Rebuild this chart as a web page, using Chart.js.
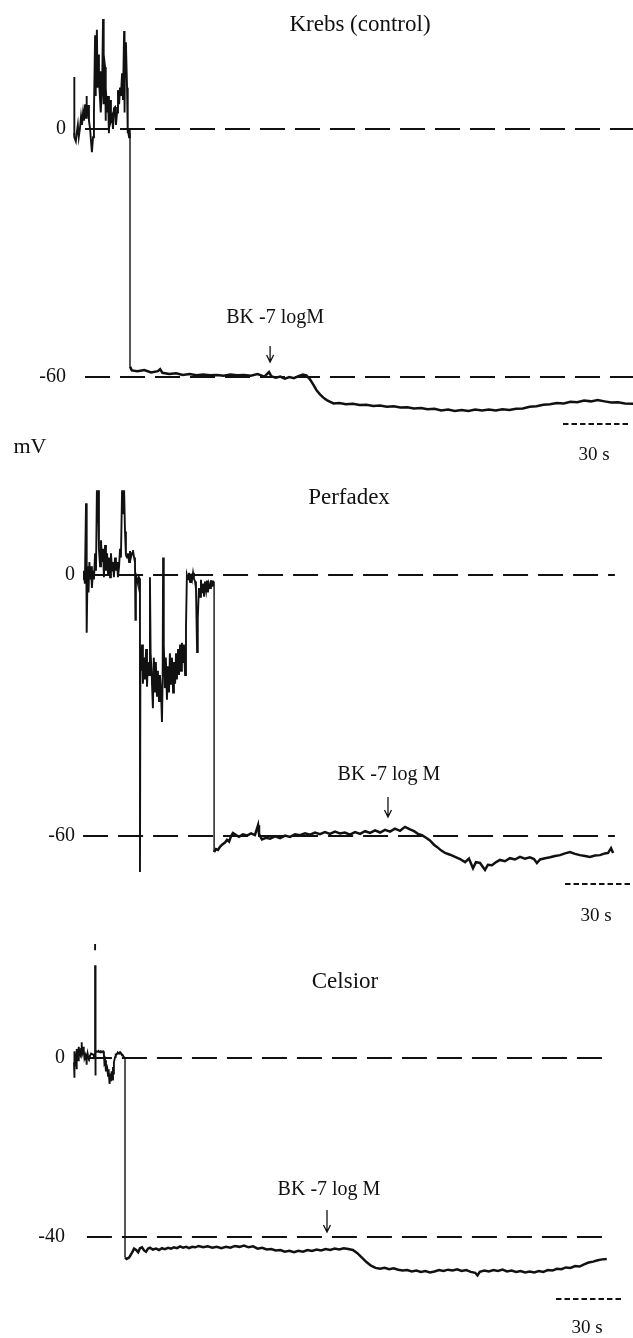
<!DOCTYPE html>
<html>
<head>
<meta charset="utf-8">
<script src="https://cdn.jsdelivr.net/npm/chart.js@4.4.1/dist/chart.umd.min.js"></script>
<style>
  html, body { margin: 0; padding: 0; background: #fff; }
  #figure { position: relative; width: 633px; height: 1338px; overflow: hidden; }
  #figure canvas { position: absolute; left: 0; }
</style>
</head>
<body>
<div id="figure">
  <canvas id="krebs-chart"></canvas>
  <canvas id="perfadex-chart"></canvas>
  <canvas id="celsior-chart"></canvas>
</div>
<script>
// time in s, membrane potential in mV

// Krebs (control)
const krebsEarlyTime = [0, 0, 0.3, 0.8, 1.2, 1.7, 2.1, 2.6, 3.1, 3.5, 4.0, 4.4, 4.9, 5.3, 5.5, 5.7, 6.2, 6.6, 7.1, 7.5,
  7.9, 8.4, 8.8, 9.3, 9.5, 9.7, 10.1, 10.4, 10.6, 11.0, 11.5, 11.7, 11.9, 12.4, 12.8, 13.0, 13.2, 13.7, 13.9, 14.1,
  14.6, 15.0, 15.4, 15.9, 16.3, 16.8, 17.2, 17.6, 18.1, 18.5, 19.0, 19.4, 19.9, 20.3, 20.7, 21.2, 21.6, 22.1, 22.3, 22.5,
  22.9, 23.4, 23.6, 23.8, 24.3, 24.5, 24.7, 24.7];
const krebsEarlyMv = [-1, 12.6, -2, -3, -1, 1, -2, 0, 3, 1, 4, 2, 6, 2.7, 8, 3, 5.8, 2, 0, -3,
  -5.6, -2, 4, 22.7, 8, 15, 24, 10, 18, 12, 7, 14, 4, 10, 26.6, 6, 18, 15, 2, 10,
  4, 8, -1, 7, 2, 3, 0, 5, 5.3, 1, 4, 9.4, 6, 10, 8, 13.5, 7, 23.7, 4, 18,
  21, 10, -1, 0, -2, 0, -1, -57.5];
const krebsLateTime = [24.7, 25.5, 28, 31, 34, 37, 38, 39, 42, 45, 48, 51, 54, 57, 60, 63, 66, 69, 72, 75,
  78, 81, 84, 86, 87, 89, 91, 93, 95, 97, 99, 101, 102.5, 104, 105.5, 107, 108.5, 110, 111.5, 113,
  114.5, 117, 120, 123, 126, 129, 132, 135, 138, 141, 144, 147, 150, 153, 156, 159, 162, 165, 168, 171,
  174, 177, 180, 183, 186, 189, 192, 195, 198, 201, 204, 207, 210, 213, 216, 219, 222, 225, 228, 231,
  234, 237, 240, 243, 246.6];
const krebsLateMv = [-57.5, -58.4, -58.6, -58.3, -58.9, -58.6, -58.1, -59.0, -59.3, -59.1, -59.5, -59.3, -59.6, -59.4, -59.6, -59.5, -59.7, -59.4, -59.6, -59.5,
  -59.7, -59.3, -59.9, -58.8, -59.8, -60.2, -59.9, -60.4, -60.0, -60.3, -59.8, -59.4, -59.6, -60.5, -61.8, -63.2, -64.2, -65.0, -65.6, -66.0,
  -66.4, -66.3, -66.6, -66.5, -66.8, -66.7, -67.0, -66.9, -67.2, -67.1, -67.4, -67.3, -67.6, -67.5, -67.8, -67.7, -68.1, -67.9, -68.2, -68.0,
  -68.2, -67.9, -68.1, -67.9, -68.1, -67.8, -68.0, -67.7, -67.6, -67.2, -67.1, -66.7, -66.6, -66.3, -66.4, -66.0, -66.1, -65.7, -65.9, -65.6,
  -65.9, -66.2, -66.1, -66.4, -66.5];
const krebsLevels = [0, -60];
const krebsBkTime = 86.5;

// Perfadex
const perfadexEarlyTime = [4.0, 4.4, 4.8, 5.3, 5.5, 5.7, 6.0, 6.4, 6.8, 7.1, 7.5, 7.9, 8.4, 8.8, 9.3, 9.7, 10.1, 10.4, 10.6, 11.0,
  11.5, 11.9, 12.4, 12.8, 13.2, 13.7, 14.1, 14.6, 15.0, 15.4, 15.9, 16.3, 16.8, 17.2, 17.6, 18.1, 18.5, 19.0, 19.4, 19.9,
  20.3, 20.7, 21.2, 21.6, 22.1, 22.5, 22.9, 23.4, 23.8, 24.3, 24.7, 25.1, 25.6, 26.0, 26.5, 26.9, 27.1, 27.3, 27.8, 28.2,
  28.6, 29.1, 29.1, 29.3, 29.6, 30.0, 30.4, 30.9, 31.3, 31.8, 32.2, 32.6, 33.1, 33.5, 33.8, 34.2, 34.8, 35.2, 35.7, 36.1,
  36.6, 37.0, 37.5, 37.9, 38.4, 38.8, 39.1, 39.3, 39.6, 40.1, 40.5, 41.0, 41.4, 41.9, 42.3, 42.8, 43.2, 43.7, 44.1, 44.6,
  45.0, 45.4, 45.9, 46.3, 46.8, 47.2, 47.6, 48.1, 48.5, 49.0, 49.4, 49.8, 50.3, 50.7, 51.2, 51.6, 52.1, 52.5, 52.9, 53.4,
  53.8, 54.3, 54.6, 55.1, 55.6, 56.0, 56.5, 56.9, 57.4, 57.8, 58.3, 58.7, 59.1, 59.5, 60.0, 60.4, 60.9, 61.3, 61.8, 61.8];
const perfadexEarlyMv = [-1, 1, -2, 16.5, 0, -13.3, 2, -4, 3, -1, 2, -3, 1, -1, 5, 1, 19.5, 12, 19.5, 6,
  2, 8, 3, 6, -0.5, 6.9, 1, 5, 0, 4, -0.5, 5, 1, 3, -0.5, 4, 1, 3, -0.5, 2,
  6, 4, 19.5, 14, 19.5, 10, 4.6, 4, 5, 3, 5.5, 4, 5, 5.7, 4, 3, -10.3, 0, -1, -2,
  -0.5, -1, -68.3, -18, -22, -16, -25, -19, -24, -17, -25.7, -20, -23, -0.5, -18, -22, -30.6, -19, -27, -20,
  -28, -22, -29, -23, -27, -33.8, -24, 4, -16, -26, -19, -28.7, -21, -27, -18, -25, -19, -27, -20, -25,
  -18, -24, -17, -23, -16, -22, -15.6, -20, -16, -23, -12, 0, -1, 0.5, -1.6, 0.3, -1, 0.5, -0.8, -1.5,
  -3, -17.7, -10, -3, -5, -1.1, -4, -2, -5, -1.5, -3.5, -1.3, -4, -2, -3, -1.2, -2.5, -1.5, -1.5, -63.7];
const perfadexLateTime = [61.8, 62.6, 63.5, 64.4, 65.3, 66.6, 67.5, 68.4, 69.3, 70.1, 71.5, 72.8, 74.5, 76.3, 78.1, 79.8, 81.2, 81.6, 82.9, 84.7,
  86.5, 88.7, 90.9, 93.1, 95.3, 97.5, 99.7, 101.9, 104.1, 106.3, 108.5, 110.7, 112.9, 115.1, 117.3, 119.5, 121.7, 124.0, 126.2, 128.4,
  130.6, 132.8, 135.0, 137.2, 139.4, 141.6, 143.8, 146.0, 148.2, 150.0, 151.7, 153.5, 155.3, 157.0, 158.8, 160.1, 161.9, 163.7, 165.9, 168.1,
  170.3, 172.5, 174.2, 176.0, 177.3, 179.1, 181.3, 182.6, 184.4, 186.2, 187.9, 190.1, 192.3, 194.5, 196.7, 198.9, 201.1, 202.9, 204.2, 205.6,
  207.8, 210.0, 212.2, 214.4, 216.6, 218.8, 221.0, 223.2, 225.4, 227.6, 229.8, 232.0, 234.2, 235.6, 236.9, 237.8];
const perfadexLateMv = [-63.7, -63.0, -63.2, -62.5, -62.0, -61.5, -60.9, -61.3, -60.0, -59.3, -59.8, -60.2, -59.6, -59.9, -59.4, -59.8, -57.5, -59.5, -60.8, -60.4,
  -60.6, -60.1, -60.5, -59.9, -60.2, -59.6, -59.8, -59.4, -59.7, -59.2, -59.6, -59.1, -59.5, -59.0, -59.4, -59.2, -59.7, -59.1, -59.5, -58.9,
  -59.3, -58.7, -59.2, -58.6, -59.0, -58.3, -58.8, -57.9, -58.5, -58.9, -59.5, -59.8, -60.4, -61.0, -62.0, -62.5, -63.3, -63.9, -64.3, -64.8,
  -65.3, -66.0, -65.2, -67.4, -66.0, -66.2, -67.8, -66.6, -66.7, -66.0, -65.5, -65.8, -65.1, -65.4, -64.8, -65.2, -64.9, -65.3, -66.2, -65.4,
  -65.1, -64.9, -64.6, -64.4, -64.0, -63.7, -64.1, -64.4, -64.6, -64.8, -64.5, -64.4, -64.0, -63.9, -62.8, -63.9];
const perfadexLevels = [0, -60];
const perfadexBkTime = 138.5;

// Celsior (null = gap in the trace)
const celsiorEarlyTime = [0, 0, 0.2, 0.4, 0.7, 0.9, 1.1, 1.3, 1.6, 1.8, 2.0, 2.2, 2.4, 2.6, 2.9, 3.1, 3.3, 3.5, 3.7, 4.0,
  4.2, 4.4, 4.6, 4.9, 5.1, 5.3, 5.5, 5.7, 6.0, 6.2, 6.6, 7.1, 7.5, 7.9, 8.4, 8.8, 9.3, 9.3, 9.3, 9.3,
  9.3, 9.3, 9.3, 9.3, 9.7, 10.1, 10.6, 11.0, 11.5, 11.9, 12.4, 12.8, 13.2, 13.4, 13.7, 14.1, 14.3, 14.6, 15.0, 15.2,
  15.4, 15.7, 15.9, 16.3, 16.6, 16.8, 17.2, 17.4, 17.6, 18.1, 18.3, 18.5, 19.0, 19.4, 19.9, 20.3, 20.7, 21.2, 21.6, 22.1,
  22.5, 22.5];
const celsiorEarlyMv = [-1, -4.4, 1.2, 1.5, -0.5, 0, -2.5, 2, 1, -0.5, 1.5, 2.5, 1, 1, 0.5, 2, 3.5, 3, 1, 1.5,
  2.5, 1.8, 0, 0.5, -0.5, 1, -1.5, -0.5, 1, 0.5, 0, 0.5, 1, 1, 0.8, 0.5, 1, 20.7, null, 24.1,
  25.5, null, 20.7, -3.9, 1.2, 1.5, 1.4, 1.5, 1.3, 1.5, 1.4, 1.5, 0.8, -1, -0.5, -3, -1.5, -2, -4, -2.5,
  -3, -5.8, -3.5, -5.2, -3, -4.8, -2, -3.5, -1, 0.2, 1, 0.5, 1, 1.2, 1, 1.3, 1, 0.8, 0.5, 0.2,
  0, -44.6];
const celsiorLateTime = [22.5, 23.2, 24.3, 25.6, 26.5, 27.4, 28.3, 29.1, 30.0, 30.9, 31.8, 32.6, 33.5, 34.8, 36.2, 37.5, 38.8, 40.1, 41.5, 42.8,
  44.1, 45.5, 46.8, 48.1, 49.5, 50.8, 52.1, 53.5, 55, 57, 59, 61, 63, 65, 67, 69, 71, 73, 75, 77,
  79, 81, 83, 85, 87, 89, 91, 93, 95, 97, 99, 101, 103, 105, 107, 109, 111, 113, 115, 117,
  119, 121, 123, 125, 127, 129, 131, 133, 135, 137, 139, 141, 143, 145, 147, 149, 151, 153, 155, 157,
  159, 161, 163, 165, 167, 169, 171, 173, 175, 177, 178, 179, 181, 183, 185, 187, 189, 191, 193, 195,
  197, 199, 201, 203, 205, 207, 209, 211, 213, 215, 217, 219, 221, 223, 225, 227, 229, 231, 233, 235];
const celsiorLateMv = [-44.6, -44.9, -44.6, -43.5, -42.6, -42.9, -43.4, -42.5, -42.3, -43.0, -43.3, -42.6, -42.4, -42.8, -42.6, -42.9, -42.5, -42.7, -42.4, -42.6,
  -42.3, -42.5, -42.1, -42.4, -42.2, -42.5, -42.2, -42.3, -42.0, -42.3, -42.1, -42.4, -42.2, -42.5, -42.2, -42.4, -42.0, -42.2, -41.9, -42.3,
  -42.1, -42.6, -42.4, -42.8, -42.7, -43.0, -42.9, -43.3, -43.1, -43.4, -43.1, -43.3, -42.9, -43.1, -42.8, -43.0, -42.7, -42.9, -42.6, -42.8,
  -42.5, -42.7, -42.9, -43.6, -44.6, -45.6, -46.4, -46.9, -47.1, -46.9, -47.2, -47.0, -47.3, -47.5, -47.4, -47.7, -47.5, -47.8, -47.6, -47.9,
  -47.7, -47.4, -47.6, -47.3, -47.5, -47.2, -47.6, -47.4, -47.8, -48.0, -48.6, -47.8, -47.5, -47.7, -47.4, -47.6, -47.3, -47.7, -47.5, -47.8,
  -47.6, -47.9, -47.7, -47.9, -47.6, -47.8, -47.4, -47.5, -47.1, -47.2, -46.8, -46.9, -46.5, -46.6, -46.1, -45.7, -45.5, -45.2, -45.0, -44.9];
const celsiorLevels = [0, -40];
const celsiorBkTime = 111.6;

const scaleBarSeconds = 30;

// page layout
const FIGURE_WIDTH = 633;
const TIME_ORIGIN_PX = 74;
const PX_PER_SECOND = 2.267;
const FONT = '"Liberation Serif", "Times New Roman", serif';
const INK = "#111";

const panels = [
  {
    canvasId: "krebs-chart",
    bandTop: 0, bandHeight: 475, zeroPx: 129, pxPerMv: 4.133,
    earlyTime: krebsEarlyTime, earlyMv: krebsEarlyMv,
    lateTime: krebsLateTime, lateMv: krebsLateMv,
    levels: krebsLevels, levelRight: 66, refStart: 4.85, refEnd: 246.6,
    title: { text: "Krebs (control)", x: 360, y: 25 },
    bk: { time: krebsBkTime, level: -60, text: "BK -7 logM", tipAbove: 15, length: 16, textAbove: 44, textDx: 5 },
    scaleBar: { start: 215.7, y: 424, labelY: 455 },
    extra: [{ text: "mV", x: 30, y: 447, size: 22 }],
  },
  {
    canvasId: "perfadex-chart",
    bandTop: 475, bandHeight: 460, zeroPx: 575, pxPerMv: 4.35,
    earlyTime: perfadexEarlyTime, earlyMv: perfadexEarlyMv,
    lateTime: perfadexLateTime, lateMv: perfadexLateMv,
    levels: perfadexLevels, levelRight: 75, refStart: 4.0, refEnd: 238.6,
    title: { text: "Perfadex", x: 349, y: 498 },
    bk: { time: perfadexBkTime, level: -60, text: "BK -7 log M", tipAbove: 19, length: 20, textAbove: 42, textDx: 1 },
    scaleBar: { start: 216.6, y: 884, labelY: 916 },
    extra: [],
  },
  {
    canvasId: "celsior-chart",
    bandTop: 935, bandHeight: 403, zeroPx: 1058, pxPerMv: 4.475,
    earlyTime: celsiorEarlyTime, earlyMv: celsiorEarlyMv,
    lateTime: celsiorLateTime, lateMv: celsiorLateMv,
    levels: celsiorLevels, levelRight: 65, refStart: 5.7, refEnd: 235.1,
    title: { text: "Celsior", x: 345, y: 982 },
    bk: { time: celsiorBkTime, level: -40, text: "BK -7 log M", tipAbove: 5, length: 22, textAbove: 42, textDx: 2 },
    scaleBar: { start: 212.6, y: 1299, labelY: 1328 },
    extra: [],
  },
];

function buildPoints(times, values) {
  return times.map((t, i) => ({ x: t, y: values[i] }));
}

function drawArrow(ctx, x, tipY, length) {
  ctx.beginPath();
  ctx.moveTo(x, tipY - length);
  ctx.lineTo(x, tipY);
  ctx.moveTo(x - 3.5, tipY - 7);
  ctx.lineTo(x, tipY);
  ctx.lineTo(x + 3.5, tipY - 7);
  ctx.stroke();
}

function makeFigureText(panel) {
  return {
    id: "figureText",
    afterDatasetsDraw(chart) {
      const { ctx } = chart;
      const xScale = chart.scales.x;
      const yScale = chart.scales.y;
      const top = panel.bandTop;

      ctx.save();
      ctx.fillStyle = INK;
      ctx.strokeStyle = INK;
      ctx.textBaseline = "middle";

      ctx.font = `23px ${FONT}`;
      ctx.textAlign = "center";
      ctx.fillText(panel.title.text, panel.title.x, panel.title.y - top);

      ctx.font = `20px ${FONT}`;
      ctx.textAlign = "right";
      panel.levels.forEach((level) => {
        ctx.fillText(String(level), panel.levelRight, yScale.getPixelForValue(level));
      });

      const bk = panel.bk;
      const arrowX = xScale.getPixelForValue(bk.time);
      const tipY = yScale.getPixelForValue(bk.level) - bk.tipAbove;
      ctx.lineWidth = 1.3;
      drawArrow(ctx, arrowX, tipY, bk.length);
      ctx.textAlign = "center";
      ctx.fillText(bk.text, arrowX + bk.textDx, tipY - bk.textAbove);

      const bar = panel.scaleBar;
      const x1 = xScale.getPixelForValue(bar.start);
      const x2 = xScale.getPixelForValue(bar.start + scaleBarSeconds);
      ctx.lineWidth = 2;
      ctx.setLineDash([5.5, 3]);
      ctx.beginPath();
      ctx.moveTo(x1, bar.y - top);
      ctx.lineTo(x2, bar.y - top);
      ctx.stroke();
      ctx.setLineDash([]);
      ctx.font = `19px ${FONT}`;
      ctx.fillText(`${scaleBarSeconds} s`, (x1 + x2) / 2 - 3, bar.labelY - top);

      panel.extra.forEach((label) => {
        ctx.font = `${label.size}px ${FONT}`;
        ctx.fillText(label.text, label.x, label.y - top);
      });

      ctx.restore();
    },
  };
}

function createPanelChart(panel) {
  const canvas = document.getElementById(panel.canvasId);
  canvas.width = FIGURE_WIDTH;
  canvas.height = panel.bandHeight;
  canvas.style.top = `${panel.bandTop}px`;

  const yMax = (panel.zeroPx - panel.bandTop) / panel.pxPerMv;
  const yMin = -(panel.bandTop + panel.bandHeight - panel.zeroPx) / panel.pxPerMv;
  const xMin = -TIME_ORIGIN_PX / PX_PER_SECOND;
  const xMax = (FIGURE_WIDTH - TIME_ORIGIN_PX) / PX_PER_SECOND;

  const earlyPoints = buildPoints(panel.earlyTime, panel.earlyMv);

  const datasets = [
    // noisy part before impalement settles
    { data: earlyPoints.slice(0, -1), borderWidth: 1.9 },
    // the drop to resting potential
    { data: earlyPoints.slice(-2), borderWidth: 1.4 },
    { data: buildPoints(panel.lateTime, panel.lateMv), borderWidth: 2.5 },
    ...panel.levels.map((level) => ({
      data: [{ x: panel.refStart, y: level }, { x: panel.refEnd, y: level }],
      borderWidth: 1.8,
      borderDash: [25, 10],
    })),
  ].map((dataset) => ({
    borderColor: INK,
    pointRadius: 0,
    tension: 0,
    spanGaps: false,
    fill: false,
    borderJoinStyle: "miter",
    ...dataset,
  }));

  return new Chart(canvas, {
    type: "line",
    data: { datasets },
    options: {
      responsive: false,
      animation: false,
      devicePixelRatio: 1,
      events: [],
      layout: { padding: 0 },
      plugins: {
        legend: { display: false },
        tooltip: { enabled: false },
      },
      scales: {
        x: { type: "linear", display: false, min: xMin, max: xMax },
        y: { type: "linear", display: false, min: yMin, max: yMax },
      },
    },
    plugins: [makeFigureText(panel)],
  });
}

panels.forEach(createPanelChart);
</script>
</body>
</html>
